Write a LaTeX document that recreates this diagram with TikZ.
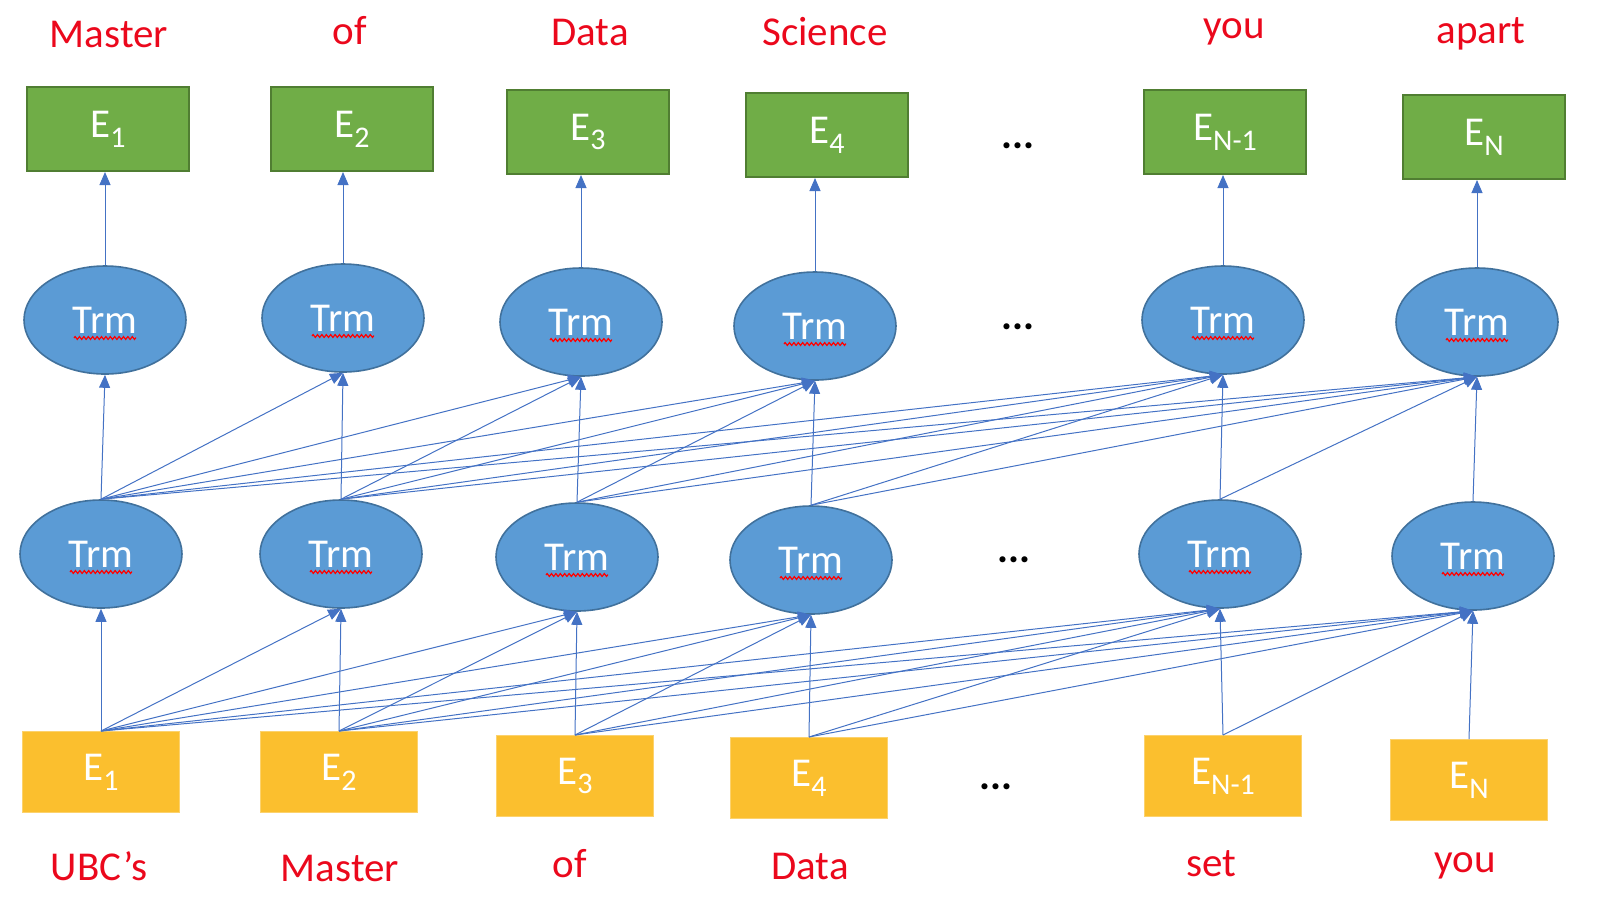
\documentclass[tikz,border=0pt]{standalone}
\usepackage{fontspec}
\setmainfont{Carlito}
\usetikzlibrary{shapes.geometric,arrows.meta,decorations.pathmorphing}

\definecolor{trmblue}{HTML}{5B9BD5}
\definecolor{trmedge}{HTML}{41719C}
\definecolor{outgreen}{HTML}{70AD47}
\definecolor{outedge}{HTML}{507E32}
\definecolor{ingold}{HTML}{FBBF2E}
\definecolor{linkblue}{HTML}{4472C4}
\definecolor{wordred}{RGB}{235,8,28}

\newcommand{\bigfont}{\fontsize{20.5}{24}\selectfont}
\newcommand{\esub}[1]{\raisebox{-0.5ex}{\fontsize{15}{18}\selectfont #1}}

\begin{document}
\begin{tikzpicture}[x=0.5pt,y=-0.5pt,
	trm/.style = {ellipse, draw=trmedge, line width=0.8pt, fill=trmblue,
		minimum width=81pt, minimum height=54pt, inner sep=0pt,
		text=white, font=\bigfont},
	outbox/.style = {rectangle, draw=outedge, line width=1pt, fill=outgreen,
		minimum width=81pt, minimum height=42pt, text=white, font=\bigfont},
	inbox/.style = {rectangle, draw=ingold!70!white, line width=0.5pt, fill=ingold,
		minimum width=78.5pt, minimum height=40.5pt, text=white, font=\bigfont},
	word/.style = {text=wordred, font=\bigfont},
	dots/.style = {font=\bigfont\bfseries},
	link/.style = {linkblue, line width=0.5pt, -{Triangle[length=6.5pt,width=5.5pt]}},
	squiggle/.style = {red, line width=0.6pt, decorate,
		decoration={zigzag, segment length=2.2pt, amplitude=0.7pt}}]
	
	% Page frame
	\useasboundingbox (0,0) rectangle (1602,902);
	
	% Input embeddings (bottom row)
	\node[inbox] (in1) at (101,772) {E\esub{1}};
	\node[inbox] (in2) at (339,772) {E\esub{2}};
	\node[inbox] (in3) at (575,776) {E\esub{3}};
	\node[inbox] (in4) at (809,778) {E\esub{4}};
	\node[inbox] (in5) at (1223,776) {E\esub{N-1}};
	\node[inbox] (in6) at (1469,780) {E\esub{N}};
	\node[dots] (indots) at (996,787) {...};
	
	% Input words
	\node[word] (inw1) at (99,866) {UBC’s};
	\node[word] (inw2) at (340,868) {Master};
	\node[word] (inw3) at (570,864) {of};
	\node[word] (inw4) at (810,866) {Data};
	\node[word] (inw5) at (1211,864) {set};
	\node[word] (inw6) at (1465,866) {you};
	
	% Lower transformer layer
	\node[trm] (lo1) at (101,554) {Trm};
	\node[trm] (lo2) at (341,554) {Trm};
	\node[trm] (lo3) at (577,557) {Trm};
	\node[trm] (lo4) at (811,560) {Trm};
	\node[trm] (lo5) at (1220,554) {Trm};
	\node[trm] (lo6) at (1473,556) {Trm};
	\node[dots] (lodots) at (1014,560) {...};
	
	% Upper transformer layer
	\node[trm] (hi1) at (105,320) {Trm};
	\node[trm] (hi2) at (343,318) {Trm};
	\node[trm] (hi3) at (581,322) {Trm};
	\node[trm] (hi4) at (815,326) {Trm};
	\node[trm] (hi5) at (1223,320) {Trm};
	\node[trm] (hi6) at (1477,322) {Trm};
	\node[dots] (hidots) at (1018,327) {...};
	
	% Output embeddings (top row)
	\node[outbox] (out1) at (108,129) {E\esub{1}};
	\node[outbox] (out2) at (352,129) {E\esub{2}};
	\node[outbox] (out3) at (588,132) {E\esub{3}};
	\node[outbox] (out4) at (827,135) {E\esub{4}};
	\node[outbox] (out5) at (1225,132) {E\esub{N-1}};
	\node[outbox] (out6) at (1484,137) {E\esub{N}};
	\node[dots] (outdots) at (1018,146) {...};
	
	% Output words
	\node[word] (outw1) at (109,34) {Master};
	\node[word] (outw2) at (350,31) {of};
	\node[word] (outw3) at (590,32) {Data};
	\node[word] (outw4) at (825,32) {Science};
	\node[word] (outw5) at (1234,32) {you};
	\node[word] (outw6) at (1481,34) {apart};
	
	% Spell-check marks under Trm
	\foreach \n in {lo1,lo2,lo3,lo4,lo5,lo6,hi1,hi2,hi3,hi4,hi5,hi6}
		\draw[squiggle] ([xshift=-15.5pt,yshift=-9pt]\n.center) -- ([xshift=15.5pt,yshift=-9pt]\n.center);
	
	% Left-to-right connections between layers
	\foreach \a in {1,...,6}
		\foreach \b in {\a,...,6} {
			\draw[link] (in\a.north) -- (lo\b.south);
			\draw[link] (lo\a.north) -- (hi\b.south);
		}
	
	% Upper layer to outputs
	\foreach \a in {1,...,6}
		\draw[link] (hi\a.north) -- (hi\a.north |- out\a.south);
	
\end{tikzpicture}
\end{document}
